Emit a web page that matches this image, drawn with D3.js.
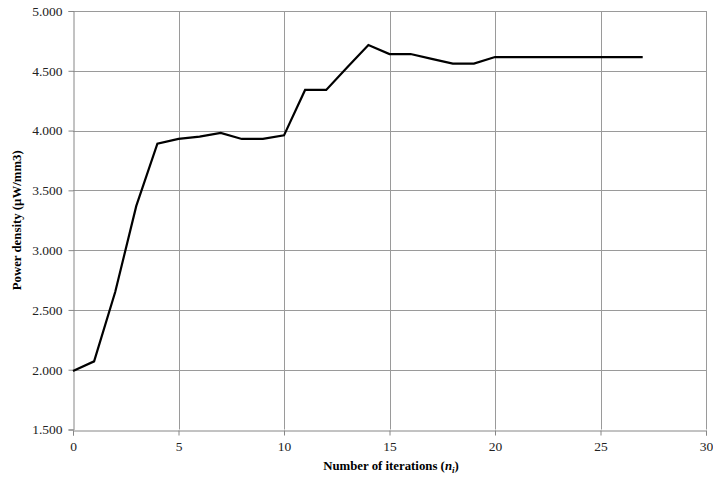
<!DOCTYPE html>
<html><head><meta charset="utf-8">
<script src="https://cdn.jsdelivr.net/npm/d3@7"></script>
<style>body{margin:0;background:#fff}svg{display:block}text{font-family:"Liberation Serif","Times New Roman",serif}</style>
</head><body>
<svg id="c" width="713" height="478"></svg>
<script>
const iterations = [0,1,2,3,4,5,6,7,8,9,10,11,12,13,14,15,16,17,18,19,20,21,22,23,24,25,26,27];
const powerDensity = [1.99,2.07,2.65,3.37,3.89,3.93,3.95,3.98,3.93,3.93,3.96,4.34,4.34,4.53,4.715,4.64,4.64,4.60,4.56,4.56,4.615,4.615,4.615,4.615,4.615,4.615,4.615,4.615];
const xTicks = [0,5,10,15,20,25,30];
const yTicks = [1.5,2.0,2.5,3.0,3.5,4.0,4.5,5.0];

const svg = d3.select("#c");
const L = 73, R = 706, T = 11, B = 429.5;
const x = d3.scaleLinear().domain([0,30]).range([L,R]);
const y = d3.scaleLinear().domain([1.5,5.0]).range([B,T]);

// grid
svg.append("g").selectAll("line").data(yTicks.slice(1)).join("line")
  .attr("x1",L).attr("x2",R).attr("y1",d=>Math.round(y(d))+0.5).attr("y2",d=>Math.round(y(d))+0.5)
  .attr("stroke","#9a9a9a").attr("stroke-width",1);
svg.append("g").selectAll("line").data(xTicks.slice(1)).join("line")
  .attr("y1",T).attr("y2",B).attr("x1",d=>Math.round(x(d))+0.5).attr("x2",d=>Math.round(x(d))+0.5)
  .attr("stroke","#9a9a9a").attr("stroke-width",1);

// axes
const xAxis = d3.axisBottom(x).tickValues(xTicks).tickSize(5).tickPadding(6).tickFormat(d3.format("d"));
const yAxis = d3.axisLeft(y).tickValues(yTicks).tickSize(5).tickPadding(6).tickFormat(d=>d3.format(".3f")(d));
const gx = svg.append("g").attr("transform",`translate(0,${Math.round(B)+0.5})`).call(xAxis);
const gy = svg.append("g").attr("transform",`translate(${L+0.5},0)`).call(yAxis);
[gx,gy].forEach(g=>{
  g.attr("font-family",null).attr("font-size",null);
  g.select(".domain").attr("stroke","#868686");
  g.selectAll(".tick line").attr("stroke","#868686");
  g.selectAll("text").style("font-family","'Liberation Serif', serif").style("font-size","13.5px").attr("fill","#222");
});

// line
svg.append("path").datum(iterations.map((d,i)=>[d,powerDensity[i]]))
  .attr("fill","none").attr("stroke","#000").attr("stroke-width",2.2).attr("stroke-linejoin","miter")
  .attr("d", d3.line().x(d=>x(d[0])).y(d=>y(d[1])));

// titles
const xt = svg.append("text").attr("x",391).attr("y",470).attr("text-anchor","middle")
  .style("font-size","12.8px").attr("font-weight","bold").attr("fill","#000");
xt.append("tspan").text("Number of iterations (");
xt.append("tspan").attr("font-style","italic").text("n");
xt.append("tspan").attr("font-style","italic").attr("font-size","9px").attr("dy",3).text("i");
xt.append("tspan").attr("dy",-3).text(")");

svg.append("text").attr("transform",`translate(21,${(T+B)/2}) rotate(-90)`).attr("text-anchor","middle")
  .style("font-size","12.8px").attr("font-weight","bold").attr("fill","#000")
  .text("Power density (µW/mm3)");
</script>
</body></html>
